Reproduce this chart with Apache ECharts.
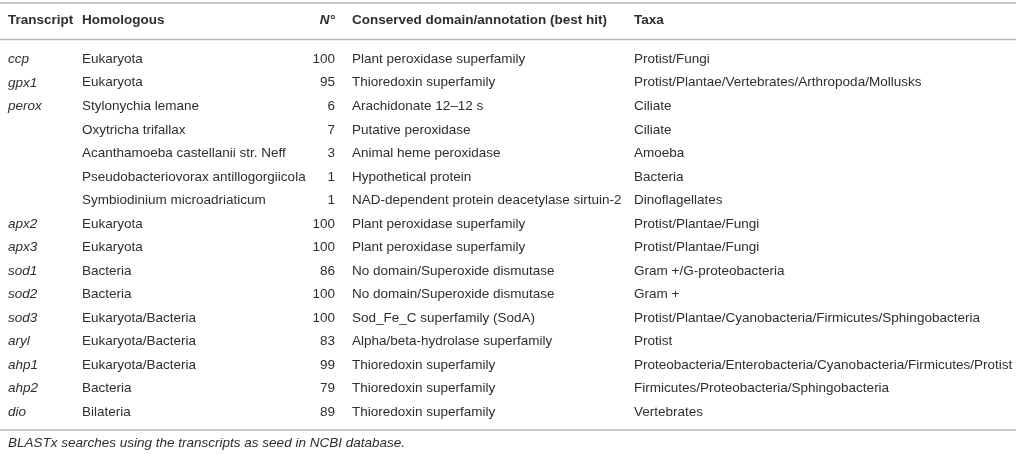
<!DOCTYPE html>
<html>
<head>
<meta charset="utf-8">
<script src="https://cdn.jsdelivr.net/npm/echarts@6/dist/echarts.min.js"></script>
<style>
  html, body { margin: 0; padding: 0; background: #fff; }
  #table-chart { width: 1016px; height: 454px; }
</style>
</head>
<body>
<div id="table-chart"></div>
<script>
// table content, one array per column
const headers = ['Transcript', 'Homologous', 'N°', 'Conserved domain/annotation (best hit)', 'Taxa'];
const transcripts = ['ccp', 'gpx1', 'perox', '', '', '', '', 'apx2', 'apx3', 'sod1', 'sod2', 'sod3', 'aryl', 'ahp1', 'ahp2', 'dio'];
const homologous = [
    'Eukaryota', 'Eukaryota', 'Stylonychia lemane', 'Oxytricha trifallax',
    'Acanthamoeba castellanii str. Neff', 'Pseudobacteriovorax antillogorgiicola', 'Symbiodinium microadriaticum',
    'Eukaryota', 'Eukaryota', 'Bacteria', 'Bacteria', 'Eukaryota/Bacteria', 'Eukaryota/Bacteria',
    'Eukaryota/Bacteria', 'Bacteria', 'Bilateria'
];
const hits = [100, 95, 6, 7, 3, 1, 1, 100, 100, 86, 100, 100, 83, 99, 79, 89];
const annotations = [
    'Plant peroxidase superfamily', 'Thioredoxin superfamily', 'Arachidonate 12\u201312 s', 'Putative peroxidase',
    'Animal heme peroxidase', 'Hypothetical protein', 'NAD-dependent protein deacetylase sirtuin-2',
    'Plant peroxidase superfamily', 'Plant peroxidase superfamily', 'No domain/Superoxide dismutase',
    'No domain/Superoxide dismutase', 'Sod_Fe_C superfamily (SodA)', 'Alpha/beta-hydrolase superfamily',
    'Thioredoxin superfamily', 'Thioredoxin superfamily', 'Thioredoxin superfamily'
];
const taxa = [
    'Protist/Fungi', 'Protist/Plantae/Vertebrates/Arthropoda/Mollusks', 'Ciliate', 'Ciliate', 'Amoeba',
    'Bacteria', 'Dinoflagellates', 'Protist/Plantae/Fungi', 'Protist/Plantae/Fungi', 'Gram +/G-proteobacteria',
    'Gram +', 'Protist/Plantae/Cyanobacteria/Firmicutes/Sphingobacteria', 'Protist',
    'Proteobacteria/Enterobacteria/Cyanobacteria/Firmicutes/Protist',
    'Firmicutes/Proteobacteria/Sphingobacteria', 'Vertebrates'
];
const footnote = 'BLASTx searches using the transcripts as seed in NCBI database.';

// layout
const FONT = '"Liberation Sans", Arial, sans-serif';
const SIZE = 13.5;
const INK = '#2e2e2e';
const RULE = '#b4b4b4';
const colX = [8, 82, 335, 352, 634];
const colAlign = ['left', 'left', 'right', 'left', 'left'];

function txt(text, x, y, align, style) {
    return {
        type: 'text',
        style: {
            text: text, x: x, y: y,
            align: align, textAlign: align,
            verticalAlign: 'middle', textVerticalAlign: 'middle',
            fill: INK,
            font: (style || '') + ' ' + SIZE + 'px ' + FONT
        }
    };
}

function rule(y) {
    return {
        type: 'line',
        shape: { x1: 0, y1: y, x2: 1016, y2: y },
        style: { stroke: RULE, lineWidth: 1.5 }
    };
}

const rows = transcripts.map((t, i) => [0, i]);

const option = {
    animation: false,
    grid: { left: 0, right: 0, top: 47.5, bottom: 30.3 },
    xAxis: { type: 'value', min: 0, max: 1016, show: false },
    yAxis: { type: 'value', min: -0.5, max: 15.5, inverse: true, show: false },
    graphic: [
        rule(3),
        rule(39.5),
        rule(430),
        txt(headers[0], colX[0], 20, 'left', 'bold'),
        txt(headers[1], colX[1], 20, 'left', 'bold'),
        txt(headers[2], colX[2], 20, 'right', 'italic bold'),
        txt(headers[3], colX[3], 20, 'left', 'bold'),
        txt(headers[4], colX[4], 20, 'left', 'bold'),
        txt(footnote, 8, 443, 'left', 'italic')
    ],
    series: [{
        type: 'custom',
        data: rows,
        renderItem: function (params, api) {
            const i = params.dataIndex;
            const y = api.coord([0, api.value(1)])[1];
            const cells = [transcripts[i], homologous[i], String(hits[i]), annotations[i], taxa[i]];
            return {
                type: 'group',
                children: cells.map((c, k) => txt(c, colX[k], y, colAlign[k], k === 0 ? 'italic' : ''))
            };
        }
    }]
};

const myChart = echarts.init(document.getElementById('table-chart'), null, { renderer: 'canvas' });
myChart.setOption(option);
</script>
</body>
</html>
